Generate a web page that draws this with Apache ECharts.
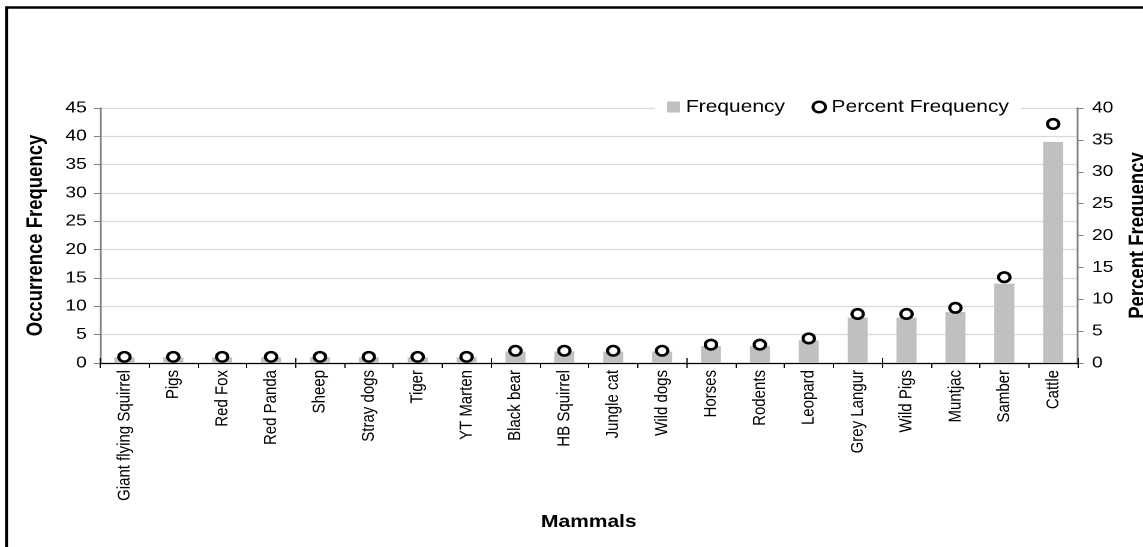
<!DOCTYPE html>
<html>
<head>
<meta charset="utf-8">
<script src="https://cdn.jsdelivr.net/npm/echarts@6/dist/echarts.min.js"></script>
<style>
  html, body { margin: 0; padding: 0; background: #fff; overflow: hidden; }
  /* the chart is laid out narrower and widened horizontally, giving the wide lettering and oval markers */
  #chart { width: 952.5px; height: 547px; transform: scaleX(1.2); transform-origin: 0 0; }
</style>
</head>
<body>
<div id="chart"></div>
<script>
// Mammal species recorded, ordered by occurrence
const mammals = ['Giant flying Squirrel', 'Pigs', 'Red Fox', 'Red Panda', 'Sheep', 'Stray dogs', 'Tiger',
  'YT Marten', 'Black bear', 'HB Squirrel', 'Jungle cat', 'Wild dogs', 'Horses', 'Rodents', 'Leopard',
  'Grey Langur', 'Wild Pigs', 'Muntjac', 'Samber', 'Cattle'];
// Occurrence counts (left axis)
const frequency = [1, 1, 1, 1, 1, 1, 1, 1, 2, 2, 2, 2, 3, 3, 4, 8, 8, 9, 14, 39];
// Share of all occurrences, in percent (right axis)
const percentFrequency = [0.96, 0.96, 0.96, 0.96, 0.96, 0.96, 0.96, 0.96, 1.92, 1.92, 1.92, 1.92,
  2.88, 2.88, 3.85, 7.69, 7.69, 8.65, 13.46, 37.5];

const FONT = 'Liberation Sans, Arial, sans-serif';
const chart = echarts.init(document.getElementById('chart'), null, { devicePixelRatio: 2 });

chart.setOption({
  animation: false,
  textStyle: { fontFamily: FONT },
  graphic: [{
    type: 'rect',
    shape: { x: 5.4, y: 7.5, width: 1000, height: 600 },
    style: { fill: null, stroke: '#000', lineWidth: 2.5 },
    z: 100
  }],
  grid: { left: 83.3, right: 55, top: 108, bottom: 184, outerBoundsMode: 'none', containLabel: false },
  legend: {
    left: 546,
    top: 95,
    itemGap: 22,
    itemWidth: 10.5,
    itemHeight: 11,
    padding: [3, 10],
    backgroundColor: '#fff',
    textStyle: { fontFamily: FONT, fontSize: 17.5, color: '#000' },
    data: [
      { name: 'Frequency', icon: 'rect' },
      { name: 'Percent Frequency', icon: 'circle', itemStyle: { color: '#fff', borderColor: '#000', borderWidth: 2.5 } }
    ]
  },
  xAxis: [{
    type: 'category',
    data: mammals,
    name: 'Mammals',
    nameLocation: 'middle',
    nameGap: 150,
    nameTextStyle: { fontFamily: FONT, fontSize: 17.5, fontWeight: 'bold', color: '#000' },
    axisLine: { lineStyle: { color: '#000', width: 1.2 } },
    axisTick: { show: true, length: 5, lineStyle: { color: '#000' } },
    axisLabel: { rotate: 90, fontSize: 15, color: '#000', margin: 7, interval: 0, fontFamily: FONT }
  }, {
    type: 'category',
    data: mammals,
    position: 'bottom',
    axisLine: { show: false },
    axisTick: { show: true, inside: true, length: 5, lineStyle: { color: '#000' } },
    axisLabel: { show: false }
  }],
  yAxis: [{
    type: 'value',
    min: 0, max: 45, interval: 5,
    name: 'Occurrence Frequency',
    nameLocation: 'middle',
    nameGap: 44,
    nameTextStyle: { fontFamily: FONT, fontSize: 18.5, fontWeight: 'bold', color: '#000' },
    axisLine: { show: true, lineStyle: { color: '#808080', width: 1.5 } },
    axisTick: { show: true, length: 5, lineStyle: { color: '#808080' } },
    axisLabel: { fontSize: 16, color: '#000', margin: 11, fontFamily: FONT },
    splitLine: { lineStyle: { color: '#d9d9d9', width: 1.3 } }
  }, {
    type: 'value',
    min: 0, max: 40, interval: 5,
    name: 'Percent Frequency',
    nameLocation: 'middle',
    nameGap: 39,
    nameTextStyle: { fontFamily: FONT, fontSize: 18.5, fontWeight: 'bold', color: '#000' },
    axisLine: { show: true, lineStyle: { color: '#808080', width: 1.5 } },
    axisTick: { show: true, length: 5, lineStyle: { color: '#808080' } },
    axisLabel: { fontSize: 16, color: '#000', margin: 12, fontFamily: FONT },
    splitLine: { show: false }
  }],
  series: [{
    name: 'Frequency',
    type: 'bar',
    data: frequency,
    yAxisIndex: 0,
    barWidth: 16.7,
    itemStyle: { color: '#c0c0c0' }
  }, {
    name: 'Percent Frequency',
    type: 'scatter',
    data: percentFrequency,
    yAxisIndex: 1,
    symbol: 'circle',
    symbolSize: 9.5,
    itemStyle: { color: '#fff', borderColor: '#000', borderWidth: 2.6, opacity: 1 },
    z: 3
  }]
});
</script>
</body>
</html>
